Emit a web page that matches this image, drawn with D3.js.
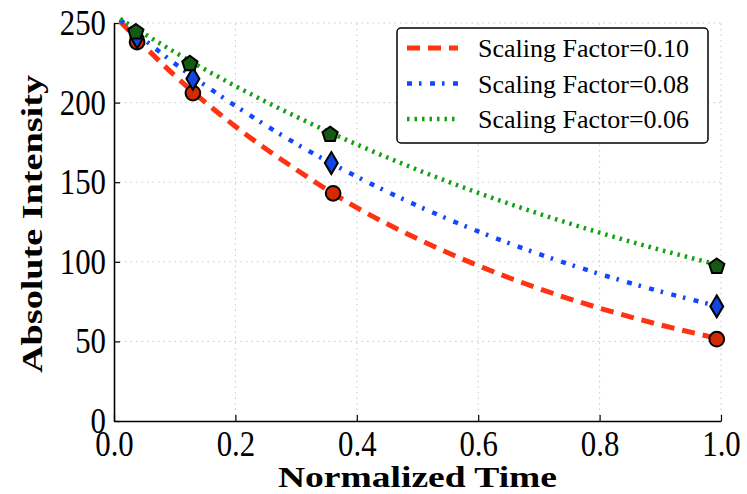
<!DOCTYPE html>
<html>
<head>
<meta charset="utf-8">
<script src="https://cdn.jsdelivr.net/npm/d3@7"></script>
<style>
    body { margin: 0; background: #fff; }
    text { font-family: "Liberation Serif", serif; }
</style>
</head>
<body>
<div id="chart"></div>
<script>
// data ----------------------------------------------------------------------------------------------
const seriesNames = ['Scaling Factor=0.10', 'Scaling Factor=0.08', 'Scaling Factor=0.06'];

// curve samples (normalized time, intensity)
const curveTimes = [0.01, 0.1, 0.2, 0.3, 0.4, 0.5, 0.6, 0.7, 0.8, 0.9, 0.99];
const curveRed   = [251, 217, 185, 158, 134, 114.5, 97.6, 83.2, 70.9, 60.4, 52.3];
const curveBlue  = [252, 224.6, 198, 174.2, 153.5, 135.2, 119.1, 104.9, 92.4, 81.4, 72.6];
const curveGreen = [252.6, 231.7, 210.4, 191.2, 173.7, 157.8, 143.3, 130.2, 118.3, 107.5, 98.6];

// measured markers
const markRedT   = [0.038, 0.130, 0.361, 0.993];
const markRed    = [238, 206, 143, 51.4];
const markBlueT  = [0.038, 0.130, 0.358, 0.993];
const markBlue   = [241, 215, 162, 72];
const markGreenT = [0.036, 0.125, 0.356, 0.993];
const markGreen  = [245, 225, 180.5, 97.7];

const xTicks = [0, 0.2, 0.4, 0.6, 0.8, 1.0];
const yTicks = [0, 50, 100, 150, 200, 250];

// set up ------------------------------------------------------------------------------------------
const width = 747;
const height = 494;
const margin = { top: 23, right: 26, bottom: 73, left: 114 };

const svg = d3.select('#chart')
    .append('svg')
    .attr('width', width)
    .attr('height', height);

const xScale = d3.scaleLinear()
    .domain([0, 1])
    .range([margin.left, width - margin.right]);

const yScale = d3.scaleLinear()
    .domain([0, 250])
    .range([height - margin.bottom, margin.top]);

const styles = [
    { line: '#ff3311', fill: '#d42a00', dash: '13,8', w: 5, shape: 'circle' },
    { line: '#1148ff', fill: '#1147e0', dash: '5,7,2.5,8.5', w: 4.5, shape: 'diamond' },
    { line: '#13a013', fill: '#145a14', dash: '2.5,5', w: 4.5, shape: 'pentagon' }
];

const series = [
    { name: seriesNames[0], ys: curveRed,   mt: markRedT,   my: markRed },
    { name: seriesNames[1], ys: curveBlue,  mt: markBlueT,  my: markBlue },
    { name: seriesNames[2], ys: curveGreen, mt: markGreenT, my: markGreen }
];

// grid --------------------------------------------------------------------------------------------
svg.append('g')
    .selectAll('line')
    .data(xTicks.slice(1))
    .join('line')
    .attr('x1', d => xScale(d)).attr('x2', d => xScale(d))
    .attr('y1', yScale(0)).attr('y2', yScale(250))
    .attr('stroke', '#c8c8c8').attr('stroke-width', 1).attr('stroke-dasharray', '1.5,4');

svg.append('g')
    .selectAll('line')
    .data(yTicks.slice(1))
    .join('line')
    .attr('x1', xScale(0)).attr('x2', xScale(1))
    .attr('y1', d => yScale(d)).attr('y2', d => yScale(d))
    .attr('stroke', '#c8c8c8').attr('stroke-width', 1).attr('stroke-dasharray', '1.5,4');

// axes --------------------------------------------------------------------------------------------
const xAxis = svg.append('g')
    .attr('transform', `translate(0,${yScale(0)})`)
    .call(d3.axisBottom(xScale).tickValues(xTicks).tickFormat(d3.format('.1f')).tickSizeInner(-6).tickSizeOuter(0).tickPadding(9));

const yAxis = svg.append('g')
    .attr('transform', `translate(${xScale(0)},0)`)
    .call(d3.axisLeft(yScale).tickValues(yTicks).tickSizeInner(-6).tickSizeOuter(0).tickPadding(8));

[xAxis, yAxis].forEach(ax => {
    ax.select('.domain').attr('stroke', '#000').attr('stroke-width', 1.6);
    ax.selectAll('.tick line').attr('stroke', '#000').attr('stroke-width', 1.2);
    ax.selectAll('.tick text')
        .attr('font-family', '"Liberation Serif", serif')
        .attr('font-size', 35)
        .attr('fill', '#000')
        // squeeze a little: the reference digits are tall and narrow
        .each(function() {
            const w = this.getComputedTextLength();
            d3.select(this).attr('textLength', w * 0.88).attr('lengthAdjust', 'spacingAndGlyphs');
        });
});
xAxis.selectAll('.tick text').attr('dy', '0.74em');
yAxis.selectAll('.tick text').attr('dy', '0.33em');

// curves ------------------------------------------------------------------------------------------
const line = d3.line()
    .x((d, i) => xScale(curveTimes[i]))
    .y(d => yScale(d))
    .curve(d3.curveMonotoneX);

svg.append('g')
    .selectAll('path')
    .data(series)
    .join('path')
    .attr('d', d => line(d.ys))
    .attr('fill', 'none')
    .attr('stroke', (d, i) => styles[i].line)
    .attr('stroke-width', (d, i) => styles[i].w)
    .attr('stroke-dasharray', (d, i) => styles[i].dash);

// markers -----------------------------------------------------------------------------------------
const shapes = {
    circle: d3.symbol().type(d3.symbolCircle).size(170),
    diamond: 'M0,-11L6.5,0L0,11L-6.5,0Z',
    pentagon: d3.range(5).map(k => {
        const a = -Math.PI / 2 + k * 2 * Math.PI / 5;
        return [8 * Math.cos(a), 8 * Math.sin(a) + 1];
    })
};

series.forEach((s, i) => {
    const st = styles[i];
    let path;
    if (st.shape === 'circle') path = shapes.circle();
    else if (st.shape === 'diamond') path = shapes.diamond;
    else path = 'M' + shapes.pentagon.join('L') + 'Z';

    svg.append('g')
        .selectAll('path')
        .data(s.mt.map((t, j) => [t, s.my[j]]))
        .join('path')
        .attr('transform', d => `translate(${xScale(d[0])},${yScale(d[1])})`)
        .attr('d', path)
        .attr('fill', st.fill)
        .attr('stroke', '#000')
        .attr('stroke-width', 2);
});

// legend ------------------------------------------------------------------------------------------
const legend = svg.append('g').attr('transform', 'translate(397,28)');

legend.append('rect')
    .attr('width', 311)
    .attr('height', 115)
    .attr('rx', 4)
    .attr('fill', '#fff')
    .attr('stroke', '#000')
    .attr('stroke-width', 1.5);

const rows = legend.selectAll('g.row')
    .data(series)
    .join('g')
    .attr('class', 'row')
    .attr('transform', (d, i) => `translate(0,${20 + i * 35.5})`);

rows.append('line')
    .attr('x1', 10).attr('x2', 61)
    .attr('stroke', (d, i) => styles[i].line)
    .attr('stroke-width', (d, i) => styles[i].w)
    .attr('stroke-dasharray', (d, i) => styles[i].dash);

rows.append('text')
    .attr('x', 81)
    .attr('y', 9)
    .attr('font-size', 26)
    .attr('fill', '#000')
    .text(d => d.name);

// axis labels -------------------------------------------------------------------------------------
svg.append('text')
    .attr('x', (xScale(0) + xScale(1)) / 2)
    .attr('y', 487)
    .attr('text-anchor', 'middle')
    .attr('font-family', '"DejaVu Serif", serif')
    .attr('font-weight', 'bold')
    .attr('font-size', 30)
    .attr('textLength', 279)
    .attr('lengthAdjust', 'spacingAndGlyphs')
    .text('Normalized Time');

svg.append('text')
    .attr('transform', `translate(42,${(yScale(0) + yScale(250)) / 2 + 2}) rotate(-90)`)
    .attr('text-anchor', 'middle')
    .attr('font-family', '"DejaVu Serif", serif')
    .attr('font-weight', 'bold')
    .attr('font-size', 30)
    .attr('textLength', 298)
    .attr('lengthAdjust', 'spacingAndGlyphs')
    .text('Absolute Intensity');
</script>
</body>
</html>
